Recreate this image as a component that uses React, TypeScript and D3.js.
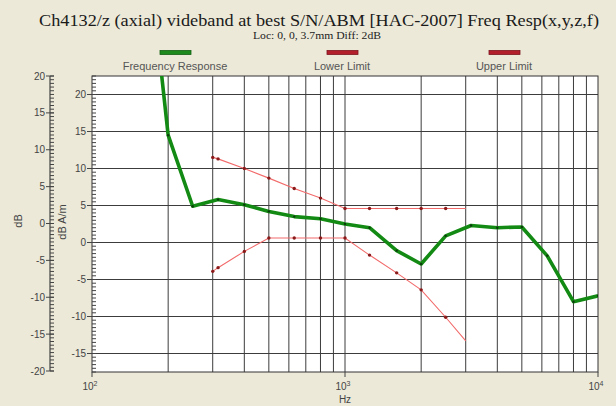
import React from "react";
import * as d3 from "d3";

// frequency response (dB A/m) at 1/3-octave points
const respFreq = [160, 200, 250, 315, 400, 500, 630, 800, 1000, 1250, 1600, 2000, 2500, 3150, 4000, 5000, 6300, 8000, 10000];
const respDb = [45, 14.5, 4.9, 5.8, 5.1, 4.2, 3.5, 3.2, 2.5, 2.0, -1.1, -2.9, 0.9, 2.3, 2.0, 2.1, -1.8, -8.0, -7.2];

// HAC limit mask
const limitFreq = [300, 315, 400, 500, 630, 800, 1000, 1250, 1600, 2000, 2500, 3000];
const lowerDb = [-3.9, -3.4, -1.2, 0.6, 0.6, 0.6, 0.6, -1.7, -4.1, -6.4, -10.1, -13.3];
const upperDb = [11.5, 11.3, 10.0, 8.7, 7.3, 6.0, 4.6, 4.6, 4.6, 4.6, 4.6, 4.6];

const dbTicks = [20, 15, 10, 5, 0, -5, -10, -15, -20];
const dbAmTicks = [20, 15, 10, 5, 0, -5, -10, -15];
const decades = [100, 1000, 10000];
const decadeExp = ["2", "3", "4"];

const legendNames = ["Frequency Response", "Lower Limit", "Upper Limit"];
const legendColors = ["#1e8a1e", "#b3202c", "#b3202c"];

const W = 616;
const H = 406;
const left = 92;
const right = 598;
const top = 76;
const bottom = 372;

export default function App() {
  const x = d3.scaleLog().domain([100, 10000]).range([left, right]);
  const y = d3.scaleLinear().domain([-17.5, 22.5]).range([bottom, top]);
  const yOuter = d3.scaleLinear().domain([-20, 20]).range([371, 76]);

  const line = d3
    .line<[number, number]>()
    .x((d) => x(d[0]))
    .y((d) => y(d[1]));

  const resp = respFreq.map((f, i) => [f, respDb[i]] as [number, number]);
  const lower = limitFreq.map((f, i) => [f, lowerDb[i]] as [number, number]);
  const upper = limitFreq.map((f, i) => [f, upperDb[i]] as [number, number]);

  const vGrid = x.ticks().filter((f) => f > 100 && f < 10000);
  const innerMinor = d3.range(-17.5, 22.51, 0.5);
  const outerMinor = d3.range(-20, 20.01, 0.5);

  const sans = "'Liberation Sans', Arial, sans-serif";
  const serif = "'Liberation Serif', 'Times New Roman', serif";
  const legendX = [175, 342, 504];

  return (
    <div style={{ position: "absolute", left: 0, top: 0 }}>
      <svg width={W} height={H} style={{ display: "block" }}>
        <defs>
          <clipPath id="plot">
            <rect x={left} y={top} width={right - left} height={bottom - top} />
          </clipPath>
        </defs>
        <rect width={W} height={H} fill="#ece9d8" />

        {/* title */}
        <text x={319} y={26} textAnchor="middle" fontFamily={serif} fontSize={17.5} fill="#1a1a1a" textLength={560} lengthAdjust="spacingAndGlyphs">
          Ch4132/z (axial) videband at best S/N/ABM [HAC-2007] Freq Resp(x,y,z,f)
        </text>
        <text x={317} y={38.5} textAnchor="middle" fontFamily={serif} fontSize={10.5} fill="#222" textLength={128} lengthAdjust="spacingAndGlyphs">
          Loc: 0, 0, 3.7mm Diff: 2dB
        </text>

        {/* legend */}
        {legendNames.map((n, i) => (
          <g key={n}>
            <rect x={legendX[i] - 15} y={50.5} width={31} height={4} fill={legendColors[i]} stroke={d3.color(legendColors[i])!.darker(1).toString()} strokeWidth={0.8} />
            <text x={legendX[i]} y={70} textAnchor="middle" fontFamily={sans} fontSize={11} fill="#555">
              {n}
            </text>
          </g>
        ))}

        {/* plot area */}
        <rect x={left} y={top} width={right - left} height={bottom - top} fill="#fff" />
        {vGrid.map((f) => (
          <line key={"v" + f} x1={x(f)} x2={x(f)} y1={top} y2={bottom} stroke="#3c3c3c" strokeWidth={1} />
        ))}
        {dbAmTicks.map((v) => (
          <line key={"h" + v} x1={left} x2={right} y1={y(v)} y2={y(v)} stroke="#3c3c3c" strokeWidth={1} />
        ))}
        <rect x={left} y={top} width={right - left} height={bottom - top} fill="none" stroke="#333" strokeWidth={1} />

        <g clipPath="url(#plot)">
          <path d={line(lower)!} fill="none" stroke="#f26a6a" strokeWidth={1.1} />
          <path d={line(upper)!} fill="none" stroke="#f26a6a" strokeWidth={1.1} />
          {[...lower.slice(0, -1), ...upper.slice(0, -1)].map((d, i) => (
            <circle key={"l" + i} cx={x(d[0])} cy={y(d[1])} r={1.7} fill="#8a1a1a" />
          ))}
          <path d={line(resp)!} fill="none" stroke="#138a13" strokeWidth={3.6} strokeLinejoin="round" />
          {resp.map((d, i) => (
            <circle key={"r" + i} cx={x(d[0])} cy={y(d[1])} r={1.2} fill="#0c3a0c" />
          ))}
        </g>

        {/* inner axis: dB A/m */}
        {innerMinor.map((v) => (
          <line key={"im" + v} x1={left} x2={left + 4} y1={y(v)} y2={y(v)} stroke="#444" strokeWidth={1} />
        ))}
        {dbAmTicks.map((v) => (
          <g key={"it" + v}>
            <line x1={left - 5} x2={left} y1={y(v)} y2={y(v)} stroke="#444" strokeWidth={1} />
            <text x={left - 6} y={y(v) + 3.5} textAnchor="end" fontFamily={sans} fontSize={10} fill="#444">
              {v}
            </text>
          </g>
        ))}
        <text transform={`translate(66,222) rotate(-90)`} textAnchor="middle" fontFamily={sans} fontSize={11} fill="#444">
          dB A/m
        </text>

        {/* outer axis: dB */}
        <line x1={50} x2={50} y1={yOuter(20)} y2={yOuter(-20)} stroke="#444" strokeWidth={1.2} />
        {outerMinor.map((v) => (
          <line key={"om" + v} x1={50} x2={54} y1={yOuter(v)} y2={yOuter(v)} stroke="#444" strokeWidth={1} />
        ))}
        {dbTicks.map((v) => (
          <g key={"ot" + v}>
            <line x1={46} x2={54} y1={yOuter(v)} y2={yOuter(v)} stroke="#444" strokeWidth={1} />
            <text x={45} y={yOuter(v) + 3.5} textAnchor="end" fontFamily={sans} fontSize={10} fill="#444">
              {v}
            </text>
          </g>
        ))}
        <text transform={`translate(22,221) rotate(-90)`} textAnchor="middle" fontFamily={sans} fontSize={11} fill="#444">
          dB
        </text>

        {/* frequency axis */}
        {decades.map((f, i) => (
          <g key={"d" + f}>
            <line x1={x(f)} x2={x(f)} y1={bottom} y2={bottom + 5} stroke="#444" strokeWidth={1} />
            <text x={x(f) - 2} y={390} textAnchor="middle" fontFamily={sans} fontSize={10} fill="#444">
              10
              <tspan dy={-4} fontSize={7}>
                {decadeExp[i]}
              </tspan>
            </text>
          </g>
        ))}
        <text x={x(1000)} y={403} textAnchor="middle" fontFamily={sans} fontSize={10} fill="#444">
          Hz
        </text>
      </svg>
    </div>
  );
}
